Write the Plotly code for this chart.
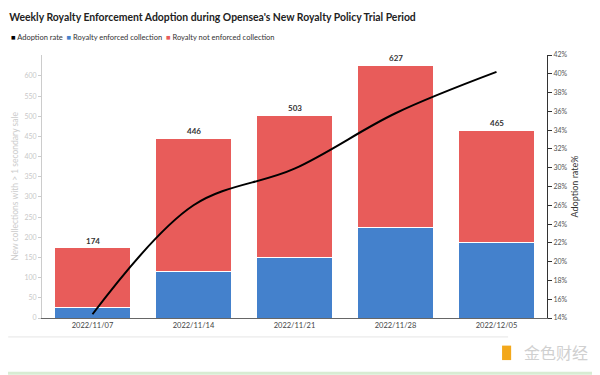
import plotly.graph_objects as go

weeks = ["2022/11/07", "2022/11/14", "2022/11/21", "2022/11/28", "2022/12/05"]
totals = [174, 446, 503, 627, 465]
enforced = [25, 115, 151, 224, 187]
not_enforced = [t - e for t, e in zip(totals, enforced)]
adoption_rate = [14.4, 26.0, 29.9, 35.8, 40.2]
left_ticks = list(range(0, 650, 50))
right_ticks = list(range(14, 43, 2))
right_labels = [f"{v}%" for v in right_ticks]
legend_items = [("Adoption rate", "black"), ("Royalty enforced collection", "#4481CC"),
                ("Royalty not enforced collection", "#E85C5A")]

BLUE = "#4481CC"
RED = "#E85C5A"
FONT = "Lato, 'Noto Sans', sans-serif"

fig = go.Figure()
fig.add_trace(go.Bar(x=weeks, y=enforced, name="Royalty enforced collection",
                     marker=dict(color=BLUE, line=dict(color="white", width=1))))
fig.add_trace(go.Bar(x=weeks, y=not_enforced, name="Royalty not enforced collection",
                     marker=dict(color=RED, line=dict(color="white", width=1))))
fig.add_trace(go.Scatter(x=weeks, y=adoption_rate, mode="lines", yaxis="y2",
                         line=dict(color="black", width=2, shape="spline", smoothing=1),
                         name="Adoption rate"))

for w, t in zip(weeks, totals):
    fig.add_annotation(x=w, y=t, text=f"<b>{t}</b>", showarrow=False, yshift=7,
                       font=dict(size=8, color="#333333", family=FONT))

legend_text = "&#160;&#160;".join(
    f"<span style='color:{c}'>■</span>&#160;{n}" for n, c in legend_items)
fig.add_annotation(xref="paper", yref="paper", x=-0.066, y=1.065, xanchor="left", yanchor="middle",
                   text=legend_text, showarrow=False, font=dict(size=7.5, color="#333333", family=FONT))

fig.update_layout(
    width=600, height=375,
    margin=dict(l=34, r=61, t=47, b=65, autoexpand=False),
    barmode="stack", bargap=0.25, showlegend=False,
    plot_bgcolor="white", paper_bgcolor="white",
    font=dict(family=FONT, size=8, color="#444444"),
    title=dict(text="<b>Weekly Royalty Enforcement Adoption during Opensea's New Royalty Policy Trial Period</b>",
               x=0.002, xanchor="left", y=0.976, yanchor="middle",
               font=dict(size=10.4, color="#222222", family=FONT)),
    xaxis=dict(type="category", showline=True, linecolor="#666666", linewidth=1, ticks="",
               tickfont=dict(size=7.5, color="#444444"), showgrid=False),
    yaxis=dict(range=[0, 652], tickvals=left_ticks, showgrid=False, zeroline=False, automargin=False,
               showline=True, linecolor="#cccccc", ticks="outside", ticklen=3, tickcolor="#cccccc",
               tickfont=dict(size=7, color="#c8c8c8"),
               title=dict(text="New collections with > 1 secondary sale", font=dict(size=8.5, color="#cccccc"),
                          standoff=4)),
    yaxis2=dict(overlaying="y", side="right", range=[14, 42], tickvals=right_ticks, ticktext=right_labels,
                showgrid=False, zeroline=False, showline=True, linecolor="#333333", automargin=False,
                ticks="outside", ticklen=4, tickcolor="#333333",
                tickfont=dict(size=7, color="#555555"),
                title=dict(text="Adoption rate%", font=dict(size=9, color="#333333"), standoff=5)),
    shapes=[
        dict(type="line", xref="paper", yref="paper", x0=-0.067, x1=0.923, y0=-0.072, y1=-0.072,
             line=dict(color="#e6e6e6", width=1)),
        dict(type="line", xref="paper", yref="paper", x0=-0.07, x1=1.12, y0=-0.21, y1=-0.21,
             line=dict(color="#d8ecd3", width=3)),
        dict(type="rect", xref="paper", yref="paper", x0=0.911, x1=0.929, y0=-0.16, y1=-0.105,
             fillcolor="#F3A81B", line=dict(width=0)),
    ],
)
fig.add_annotation(xref="paper", yref="paper", x=1.085, y=-0.13, text="金色财经", showarrow=False,
                   xanchor="right", yanchor="middle",
                   font=dict(size=16, color="#d0d0d0", family="Noto Sans CJK SC"))

fig.write_html("out.html")
